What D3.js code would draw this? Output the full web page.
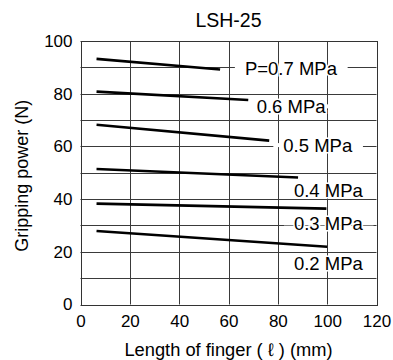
<!DOCTYPE html>
<html>
<head>
<meta charset="utf-8">
<script src="https://cdn.jsdelivr.net/npm/d3@7"></script>
<style>
  body { margin: 0; background: #fff; }
  svg { display: block; font-family: 'Liberation Sans', Arial, sans-serif; }
</style>
</head>
<body>
<div id="chart"></div>
<script>
const title = 'LSH-25'
const xTicks = [0, 20, 40, 60, 80, 100, 120]
const yTicks = [0, 20, 40, 60, 80, 100]
const pressures = ['P=0.7 MPa', '0.6 MPa', '0.5 MPa', '0.4 MPa', '0.3 MPa', '0.2 MPa']
// finger length (mm) at start / end of each curve
const lengthStart = [6.5, 6.5, 6.5, 6.5, 6.5, 6.5]
const lengthEnd = [56.6, 68, 76.5, 88.2, 99.7, 100]
// gripping power (N) at start / end
const powerStart = [93.2, 80.8, 68.2, 51.4, 38.3, 27.9]
const powerEnd = [89.2, 77.6, 62.2, 48.2, 36.4, 21.9]
// where each pressure label sits (data units)
const labelX = [85.3, 85.4, 96.2, 100.5, 100.5, 100.5]
const labelY = [89.6, 75.2, 60.5, 43.1, 30.8, 15.5]

const width = 393
const height = 360
const margin = { top: 41, right: 16.5, bottom: 55.5, left: 80.5 }

const svg = d3.select('#chart').append('svg')
  .attr('width', width)
  .attr('height', height)

const x = d3.scaleLinear().domain([0, 120]).range([margin.left, width - margin.right])
const y = d3.scaleLinear().domain([0, 100]).range([height - margin.bottom, margin.top])

const grid = svg.append('g').attr('stroke', '#3a3a3a').attr('stroke-width', 1)

grid.selectAll('.gx')
  .data(d3.range(0, 121, 20))
  .join('line')
  .attr('x1', d => Math.round(x(d)) + 0.5)
  .attr('x2', d => Math.round(x(d)) + 0.5)
  .attr('y1', y(0))
  .attr('y2', y(100))

grid.selectAll('.gy')
  .data(d3.range(0, 101, 10))
  .join('line')
  .attr('x1', x(0))
  .attr('x2', x(120))
  .attr('y1', d => Math.round(y(d)) + 0.5)
  .attr('y2', d => Math.round(y(d)) + 0.5)

// frame
svg.append('rect')
  .attr('x', Math.round(x(0)) + 0.5)
  .attr('y', Math.round(y(100)) + 0.5)
  .attr('width', Math.round(x(120)) - Math.round(x(0)))
  .attr('height', Math.round(y(0)) - Math.round(y(100)))
  .attr('fill', 'none')
  .attr('stroke', '#333')

const series = pressures.map((p, i) => ({
  name: p,
  points: [[lengthStart[i], powerStart[i]], [lengthEnd[i], powerEnd[i]]],
  lx: labelX[i],
  ly: labelY[i]
}))

const line = d3.line().x(d => x(d[0])).y(d => y(d[1]))

svg.append('g').selectAll('path')
  .data(series)
  .join('path')
  .attr('d', d => line(d.points))
  .attr('fill', 'none')
  .attr('stroke', '#000')
  .attr('stroke-width', 2.6)

// labels: white gap in horizontal grid + halo
const labels = svg.append('g')
  .attr('font-size', 18.5)
  .selectAll('g')
  .data(series)
  .join('g')

labels.append('text')
  .attr('x', d => x(d.lx))
  .attr('y', d => y(d.ly))
  .attr('dy', '0.35em')
  .attr('text-anchor', 'middle')
  .text(d => d.name)
  .each(function (d) { d.bb = this.getBBox() })

labels.insert('rect', 'text')
  .attr('x', d => d.bb.x - 10)
  .attr('width', d => d.bb.width + 20)
  .attr('y', d => y(d.ly) - 2)
  .attr('height', 4)
  .attr('fill', '#fff')

labels.select('text')
  .attr('fill', '#000')
  .attr('stroke', '#fff')
  .attr('stroke-width', 3)
  .attr('paint-order', 'stroke')

// axes
const xAxis = svg.append('g')
  .attr('transform', `translate(0,${y(0)})`)
  .call(d3.axisBottom(x).tickValues(xTicks).tickSize(0).tickPadding(10))
xAxis.select('.domain').remove()
xAxis.selectAll('text').attr('font-size', 17).attr('fill', '#000').attr('font-family', null)

const yAxis = svg.append('g')
  .attr('transform', `translate(${x(0)},0)`)
  .call(d3.axisLeft(y).tickValues(yTicks).tickSize(0).tickPadding(8))
yAxis.select('.domain').remove()
yAxis.selectAll('text').attr('font-size', 17).attr('fill', '#000').attr('font-family', null)

svg.append('text')
  .attr('x', (x(0) + x(120)) / 2)
  .attr('y', 27)
  .attr('text-anchor', 'middle')
  .attr('font-size', 19.5)
  .text(title)

svg.append('text')
  .attr('x', (x(0) + x(120)) / 2)
  .attr('y', 356)
  .attr('text-anchor', 'middle')
  .attr('font-size', 18.3)
  .text('Length of finger ( ℓ ) (mm)')

svg.append('text')
  .attr('transform', `translate(28,${(y(0) + y(100)) / 2 + 3}) rotate(-90)`)
  .attr('text-anchor', 'middle')
  .attr('font-size', 18)
  .text('Gripping power (N)')
</script>
</body>
</html>
